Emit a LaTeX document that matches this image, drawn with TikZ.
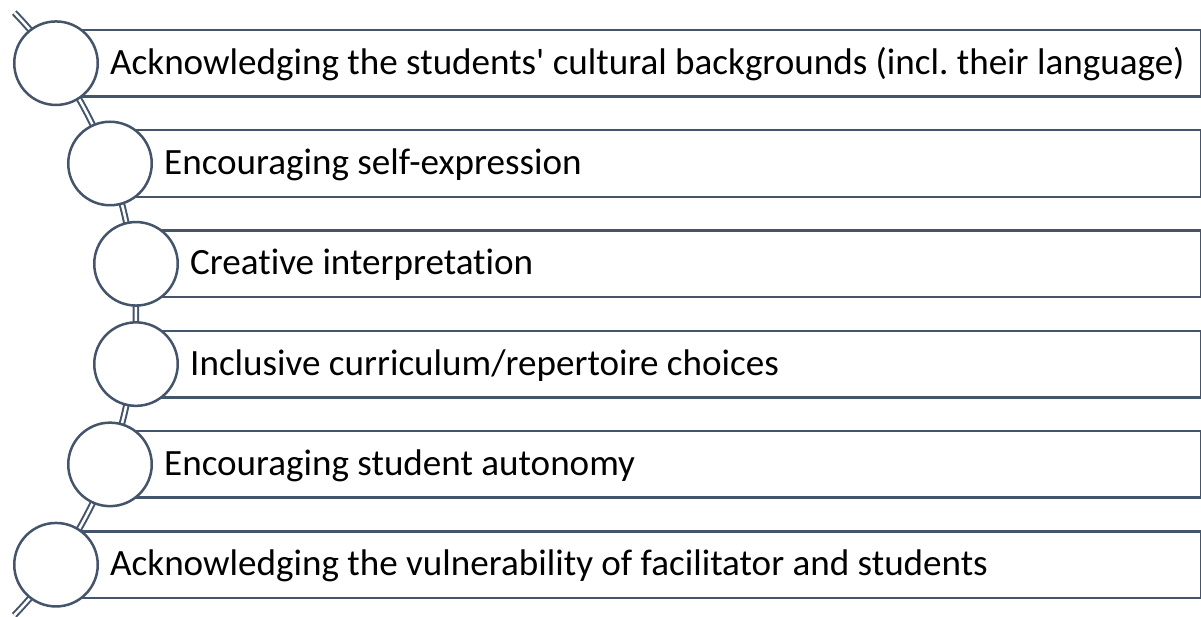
\documentclass[tikz,border=0pt]{standalone}
\usepackage{fontspec}
\setmainfont{Carlito}[Ligatures=CommonOff]
\definecolor{linec}{HTML}{44546A}
\begin{document}
\frenchspacing
\begin{tikzpicture}[x=1pt,y=1pt,
  bar/.style={draw=linec,line width=2.5pt,fill=white,rectangle,inner sep=0pt,minimum height=66.6pt,anchor=west},
  bead/.style={draw=linec,line width=2.5pt,fill=white,circle,inner sep=0pt,minimum size=83.5pt},
  label/.style={anchor=base west,inner sep=0pt,font=\fontsize{37.1}{44}\selectfont,text=black},
  rail/.style={draw=linec,line width=2pt,double=white,double distance=2.5pt}]
\useasboundingbox (0,0) rectangle (1201,-617);
% rail arc behind everything
\coordinate (arcc) at (-297.8,-313.95);
\draw[rail] (arcc) ++(-44:433.8) arc[start angle=-44,end angle=44,radius=433.8];
% bars
\node[bar,minimum width=1143.5pt] (r1) at (56,-63.2) {};
\node[bar,minimum width=1089.5pt] (r2) at (110,-163.5) {};
\node[bar,minimum width=1063.5pt] (r3) at (136,-263.8) {};
\node[bar,minimum width=1063.5pt] (r4) at (136,-364.1) {};
\node[bar,minimum width=1089.5pt] (r5) at (110,-464.4) {};
\node[bar,minimum width=1143.5pt] (r6) at (56,-564.7) {};
% beads
\node[bead] (c1) at (r1.west) {};
\node[bead] (c2) at (r2.west) {};
\node[bead] (c3) at (r3.west) {};
\node[bead] (c4) at (r4.west) {};
\node[bead] (c5) at (r5.west) {};
\node[bead] (c6) at (r6.west) {};
% labels
\node[label] (t1) at (110,-74.2) {Acknowledging the students\textquotesingle{} cultural backgrounds (incl. their language)};
\node[label] (t2) at (164,-174.5) {Encouraging self-expression};
\node[label] (t3) at (190,-274.8) {Creative interpretation};
\node[label] (t4) at (190,-375.1) {Inclusive curriculum/repertoire choices};
\node[label] (t5) at (164,-475.4) {Encouraging student autonomy};
\node[label] (t6) at (110,-575.7) {Acknowledging the vulnerability of facilitator and students};
\end{tikzpicture}
\end{document}
